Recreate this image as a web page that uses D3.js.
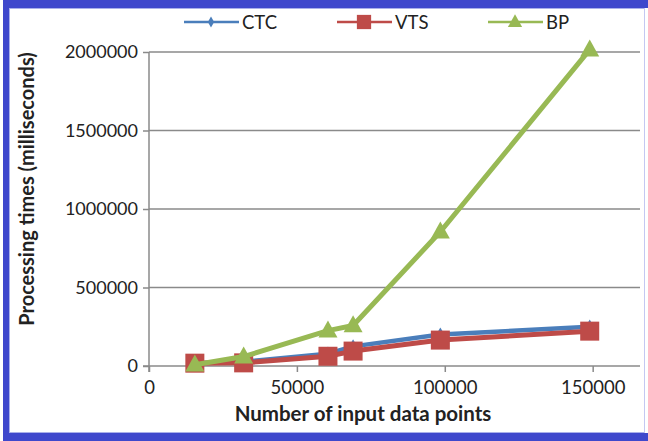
<!DOCTYPE html>
<html><head><meta charset="utf-8">
<script src="https://cdn.jsdelivr.net/npm/d3@7"></script>
<style>body{margin:0;background:#fff}svg{display:block}</style>
</head><body>
<svg id="c" width="648" height="441"></svg>
<script>
const xValues = [15500, 32000, 60500, 69000, 98500, 149000];
const ctc = [17000, 28000, 78000, 125000, 200000, 250000];
const vts = [18000, 20000, 62000, 95000, 165000, 222000];
const bp = [8000, 60000, 225000, 258000, 855000, 2015000];
const seriesNames = ["CTC", "VTS", "BP"];
const xTicks = [0, 50000, 100000, 150000];
const yTicks = [0, 500000, 1000000, 1500000, 2000000];

const colors = {CTC: "#4A7EBB", VTS: "#BE4B48", BP: "#98B954"};
const svg = d3.select("#c");
const font = "Lato, 'Open Sans', sans-serif";

const x = d3.scaleLinear().domain([0, 166000]).range([149, 640]);
const y = d3.scaleLinear().domain([0, 2000000]).range([366, 52]);

// frame
svg.append("rect").attr("x",0).attr("y",0).attr("width",648).attr("height",441).attr("fill","#fff");
svg.append("rect").attr("x",3).attr("y",0).attr("width",6).attr("height",441).attr("fill","#3F48CC");
svg.append("rect").attr("x",3).attr("y",0).attr("width",645).attr("height",8).attr("fill","#3F48CC");
svg.append("rect").attr("x",3).attr("y",433).attr("width",645).attr("height",8).attr("fill","#3F48CC");
svg.append("rect").attr("x",9).attr("y",8).attr("width",1).attr("height",425).attr("fill","#aab0ea");
svg.append("rect").attr("x",9).attr("y",8).attr("width",635).attr("height",1).attr("fill","#aab0ea");
svg.append("rect").attr("x",9).attr("y",432).attr("width",635).attr("height",1).attr("fill","#aab0ea");
svg.append("rect").attr("x",644).attr("y",8).attr("width",1).attr("height",425).attr("fill","#c4c8f2");

// gridlines
svg.append("g").selectAll("line").data(yTicks.filter(d => d > 0)).join("line")
  .attr("x1", x(0)).attr("x2", 640).attr("y1", d => y(d)).attr("y2", d => y(d))
  .attr("stroke", "#8a8a8a").attr("stroke-width", 1.5);

// y axis
const yAxis = d3.axisLeft(y).tickValues(yTicks).tickSize(6).tickPadding(5).tickFormat(d3.format("d"));
const gy = svg.append("g").attr("transform", `translate(${x(0)},0)`).call(yAxis);
gy.select(".domain").remove();
gy.append("line").attr("x1",0).attr("x2",0).attr("y1",y(2000000)).attr("y2",y(0)+6).attr("stroke","#8a8a8a").attr("stroke-width",1.5);
gy.selectAll(".tick line").attr("stroke","#8a8a8a").attr("stroke-width",1.5);
gy.selectAll(".tick text").attr("font-family",font).attr("font-size",18).attr("fill","#222");

// x axis
const xAxis = d3.axisBottom(x).tickValues(xTicks).tickSize(6).tickPadding(9).tickFormat(d3.format("d"));
const gx = svg.append("g").attr("transform", `translate(0,${y(0)})`).call(xAxis);
gx.select(".domain").remove();
gx.append("line").attr("x1",x(0)-6).attr("x2",640).attr("y1",0).attr("y2",0).attr("stroke","#8a8a8a").attr("stroke-width",1.5);
gx.selectAll(".tick line").attr("stroke","#8a8a8a").attr("stroke-width",1.5);
gx.selectAll(".tick text").attr("font-family",font).attr("font-size",18.5).attr("fill","#222");

// axis titles
svg.append("text").attr("x", 363).attr("y", 421).attr("text-anchor","middle")
  .attr("font-family",font).attr("font-weight","bold").attr("font-size",20.5).attr("fill","#222")
  .text("Number of input data points");
svg.append("text").attr("transform","translate(34,189) rotate(-90)").attr("text-anchor","middle")
  .attr("font-family",font).attr("font-weight","bold").attr("font-size",20).attr("fill","#222")
  .text("Processing times (milliseconds)");

const data = {CTC: ctc, VTS: vts, BP: bp};
const line = d3.line().x(d => x(d[0])).y(d => y(d[1]));
const widths = {CTC: 4.5, VTS: 5, BP: 5};

function marker(g, name, cx, cy, scale) {
  const s = scale || 1;
  if (name === "CTC") {
    g.append("path").attr("d", d3.symbol(d3.symbolDiamond, 60*s*s)()).attr("transform", `translate(${cx},${cy})`).attr("fill", colors.CTC);
  } else if (name === "VTS") {
    const w = 19*s;
    g.append("rect").attr("x", cx-w/2).attr("y", cy-w/2).attr("width", w).attr("height", w).attr("fill", colors.VTS);
  } else {
    const w = 19*s, h = 17*s;
    g.append("path").attr("d", `M${cx},${cy-h*0.6}L${cx+w/2},${cy+h*0.4}L${cx-w/2},${cy+h*0.4}Z`).attr("fill", colors.BP);
  }
}

seriesNames.forEach(name => {
  const pts = xValues.map((xv, i) => [xv, data[name][i]]);
  const g = svg.append("g");
  g.append("path").datum(pts).attr("d", line).attr("fill","none")
    .attr("stroke", colors[name]).attr("stroke-width", widths[name]).attr("stroke-linejoin","round");
  pts.forEach(p => marker(g, name, x(p[0]), y(p[1])));
});

// legend
const legendPos = {CTC: 184, VTS: 337, BP: 488};
seriesNames.forEach(name => {
  const lx = legendPos[name], ly = 22;
  const g = svg.append("g");
  g.append("line").attr("x1", lx).attr("x2", lx+55).attr("y1", ly).attr("y2", ly)
    .attr("stroke", colors[name]).attr("stroke-width", 2.5);
  marker(g, name, lx+27, ly, 0.75);
  g.append("text").attr("x", lx+58).attr("y", ly+6.5).attr("font-family",font).attr("font-size",18.5).attr("fill","#222").text(name);
});
</script>
</body></html>
